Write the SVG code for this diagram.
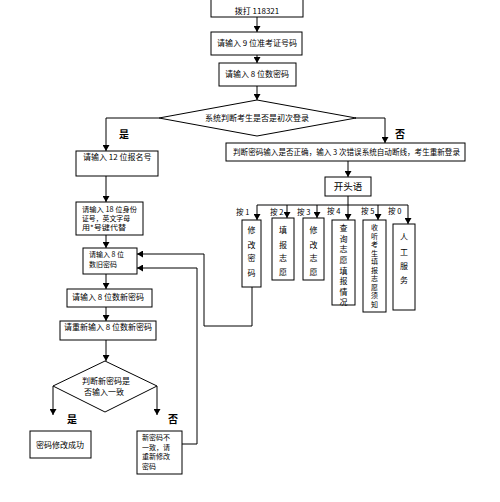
<svg xmlns="http://www.w3.org/2000/svg" width="500" height="502" viewBox="0 0 500 502">
<style>
.box{fill:#fff;stroke:#000;stroke-width:1}
.ln{fill:none;stroke:#000;stroke-width:1}
text{font-family:"Noto Sans CJK SC","Noto Sans",sans-serif;font-size:8px;fill:#000}
.c{text-anchor:middle}
.b{font-weight:bold;font-size:10px}
.k{font-size:7.5px}
.s{font-size:7px}
</style>
<defs>
<marker id="ar" markerUnits="userSpaceOnUse" markerWidth="6" markerHeight="7" refX="6" refY="3.5" orient="auto"><path d="M0,0 L6,3.5 L0,7 z" fill="#000"/></marker>
</defs>
<rect width="500" height="502" fill="#fff"/>
<g id="connectors">
<path class="ln" d="M257,17 V32" marker-end="url(#ar)"/>
<path class="ln" d="M257,55 V63" marker-end="url(#ar)"/>
<path class="ln" d="M257,86 V100" marker-end="url(#ar)"/>
<path class="ln" d="M159,118 H106 V151" marker-end="url(#ar)"/>
<path class="ln" d="M355,118 H385 V143" marker-end="url(#ar)"/>
<path class="ln" d="M106,176 V202" marker-end="url(#ar)"/>
<path class="ln" d="M106,235 V248" marker-end="url(#ar)"/>
<path class="ln" d="M106,274 V289" marker-end="url(#ar)"/>
<path class="ln" d="M106,307 V321" marker-end="url(#ar)"/>
<path class="ln" d="M106,340 V361" marker-end="url(#ar)"/>
<path class="ln" d="M53,386 V415" marker-end="url(#ar)"/>
<path class="ln" d="M157,386 V415" marker-end="url(#ar)"/>
<path class="ln" d="M348,161 V177" marker-end="url(#ar)"/>
<path class="ln" d="M348,196 V220" marker-end="url(#ar)"/>
<path class="ln" d="M257,205 H408"/>
<path class="ln" d="M257,205 V220" marker-end="url(#ar)"/>
<path class="ln" d="M287,205 V218" marker-end="url(#ar)"/>
<path class="ln" d="M317,205 V218" marker-end="url(#ar)"/>
<path class="ln" d="M378,205 V220" marker-end="url(#ar)"/>
<path class="ln" d="M408,205 V224" marker-end="url(#ar)"/>
<path class="ln" d="M252,287 V326 H204 V254 H137" marker-end="url(#ar)"/>
<path class="ln" d="M182,444 H197 V268 H137" marker-end="url(#ar)"/>
</g>
<g id="n-dial"><rect class="box" x="211" y="-2" width="92" height="19"/><text class="c" x="257" y="14">拨打 118321</text></g>
<g id="n-zkz"><rect class="box" x="211" y="32" width="91" height="23"/><text class="c" x="257" y="46">请输入 9 位准考证号码</text></g>
<g id="n-pwd"><rect class="box" x="219" y="63" width="77" height="23"/><text class="c" x="257" y="77">请输入 8 位数密码</text></g>
<g id="n-first"><polygon class="box" points="257,100 356,118 257,136 159,118"/><text class="c" x="257" y="121">系统判断考生是否是初次登录</text></g>
<text class="b" x="119" y="138">是</text>
<text class="b" x="395" y="138">否</text>
<g id="n-bmh"><rect class="box" x="76" y="151" width="82" height="25"/><text x="83" y="160">请输入 12 位报名号</text></g>
<g id="n-sfz"><rect class="box" x="76" y="202" width="67" height="33"/><text class="s" x="82" y="212" textLength="55" lengthAdjust="spacingAndGlyphs">请输入 18 位身份</text><text class="s" x="82" y="221" textLength="48" lengthAdjust="spacingAndGlyphs">证号，英文字母</text><text class="s" x="82" y="230" textLength="44" lengthAdjust="spacingAndGlyphs">用*号键代替</text></g>
<g id="n-old"><rect class="box" x="83" y="248" width="54" height="26"/><text class="s" x="89" y="257">请输入 8 位</text><text class="s" x="89" y="267">数旧密码</text></g>
<g id="n-new"><rect class="box" x="67" y="289" width="85" height="18"/><text class="c" x="108" y="300">请输入 8 位数新密码</text></g>
<g id="n-renew"><rect class="box" x="60" y="321" width="96" height="19"/><text class="c" x="108" y="330">请重新输入 8 位数新密码</text></g>
<g id="n-same"><polygon class="box" points="105,361 157,386 105,412 53,386"/><text class="c" x="106" y="384">判断新密码是</text><text class="c" x="104" y="395">否输入一致</text></g>
<text class="b" x="67" y="423">是</text>
<text class="b" x="168" y="423">否</text>
<g id="n-ok"><rect class="box" x="30" y="431" width="61" height="27"/><text class="c" x="60" y="448">密码修改成功</text></g>
<g id="n-diff"><rect class="box" x="137" y="431" width="45" height="43"/><text class="s" x="142" y="440">新密码不</text><text class="s" x="142" y="449.5">一致，请</text><text class="s" x="142" y="459">重新修改</text><text class="s" x="142" y="468.5">密码</text></g>
<g id="n-check"><rect class="box" x="226" y="143" width="239" height="18"/><text x="233" y="155" textLength="227" lengthAdjust="spacingAndGlyphs">判断密码输入是否正确，输入 3 次错误系统自动断线，考生重新登录</text></g>
<g id="n-open"><rect class="box" x="325" y="177" width="46" height="19"/><text class="c" x="348" y="190" style="font-size:9.5px">开头语</text></g>
<text class="k" x="236" y="215">按 1</text>
<text class="k" x="270" y="215">按 2</text>
<text class="k" x="297" y="215">按 3</text>
<text class="k" x="327" y="214">按 4</text>
<text class="k" x="361" y="214">按 5</text>
<text class="k" x="388" y="214">按 0</text>
<g id="n-k1"><rect class="box" x="242" y="220" width="19" height="67"/><text class="c"><tspan x="251.5" y="233">修</tspan><tspan x="251.5" y="248">改</tspan><tspan x="251.5" y="261">密</tspan><tspan x="251.5" y="276">码</tspan></text></g>
<g id="n-k2"><rect class="box" x="272" y="218" width="22" height="62"/><text class="c"><tspan x="283" y="233">填</tspan><tspan x="283" y="248">报</tspan><tspan x="283" y="261">志</tspan><tspan x="283" y="275">愿</tspan></text></g>
<g id="n-k3"><rect class="box" x="303" y="218" width="21" height="62"/><text class="c"><tspan x="313.5" y="233">修</tspan><tspan x="313.5" y="248">改</tspan><tspan x="313.5" y="261">志</tspan><tspan x="313.5" y="275">愿</tspan></text></g>
<g id="n-k4"><rect class="box" x="332" y="220" width="23" height="85"/><text class="c"><tspan x="343.5" y="231">查</tspan><tspan x="343.5" y="242">询</tspan><tspan x="343.5" y="252">志</tspan><tspan x="343.5" y="263">愿</tspan><tspan x="343.5" y="274">填</tspan><tspan x="343.5" y="284">报</tspan><tspan x="343.5" y="295">情</tspan><tspan x="343.5" y="305">况</tspan></text></g>
<g id="n-k5"><rect class="box" x="363" y="220" width="23" height="92"/><text class="c s"><tspan x="374.5" y="230">收</tspan><tspan x="374.5" y="238.5">听</tspan><tspan x="374.5" y="247">考</tspan><tspan x="374.5" y="255.5">生</tspan><tspan x="374.5" y="264">填</tspan><tspan x="374.5" y="272.5">报</tspan><tspan x="374.5" y="281">志</tspan><tspan x="374.5" y="289.5">愿</tspan><tspan x="374.5" y="298">须</tspan><tspan x="374.5" y="306.5">知</tspan></text></g>
<g id="n-k0"><rect class="box" x="393" y="224" width="22" height="86"/><text class="c"><tspan x="404" y="240">人</tspan><tspan x="404" y="255">工</tspan><tspan x="404" y="269">服</tspan><tspan x="404" y="283">务</tspan></text></g>
</svg>
